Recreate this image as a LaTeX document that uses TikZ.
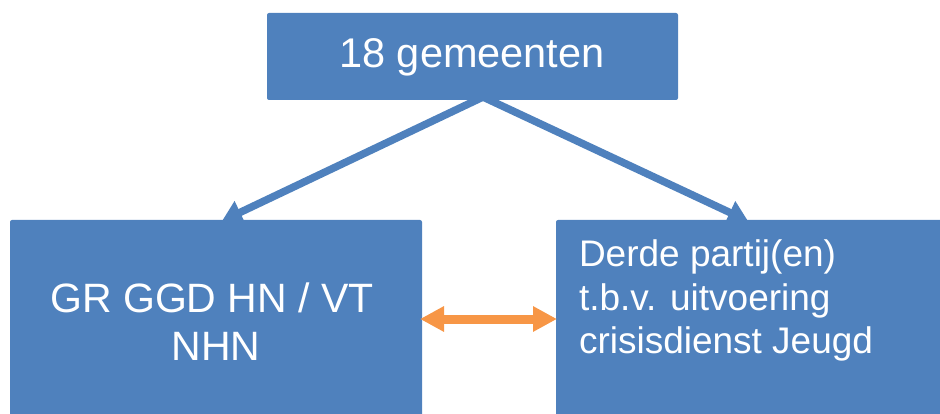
\documentclass[tikz,border=0pt]{standalone}
\usepackage{fontspec}
\setmainfont{Liberation Sans}
\usetikzlibrary{arrows.meta}
\definecolor{boxblue}{HTML}{4F81BD}
\definecolor{arrorange}{HTML}{F79646}
\begin{document}
\begin{tikzpicture}[x=1pt,y=-1pt,
  bluebox/.style={fill=boxblue, draw=none, rounded corners=2pt, inner sep=0pt, outer sep=0pt},
  conn/.style={draw=boxblue, line width=7.5pt, -{Triangle[length=20pt,width=24pt]}},
  oarrow/.style={draw=arrorange, line width=9pt, {Triangle[length=24pt,width=24pt]}-{Triangle[length=24pt,width=24pt]}},
  lbl/.style={text=white, inner sep=0pt, outer sep=0pt}]
\useasboundingbox (0,0) rectangle (940,414);
% connectors from top box
\coordinate (apex) at (483,97);
\coordinate (ltip) at (222,221);
\coordinate (rtip) at (748,221);
\draw[conn] (apex) -- (ltip);
\draw[conn] (apex) -- (rtip);
% boxes
\node[bluebox, minimum width=411pt, minimum height=87pt] (top) at (472.5,56.5) {};
\node[bluebox, minimum width=412pt, minimum height=198pt] (left) at (216,319) {};
\node[bluebox, minimum width=389pt, minimum height=198pt] (right) at (750.5,319) {};
% texts
\node[lbl, anchor=base, font=\fontsize{41.5}{48}\selectfont] (ttop) at (472,67.7) {18 gemeenten};
\node[lbl, anchor=base, font=\fontsize{41}{48}\selectfont] (tl1) at (212,312.7) {GR GGD HN / VT};
\node[lbl, anchor=base, font=\fontsize{41}{48}\selectfont] (tl2) at (216,360.7) {NHN};
\node[lbl, anchor=base west, font=\fontsize{37}{43}\selectfont] (tr1) at (579,266.7) {Derde partij(en)};
\node[lbl, anchor=base west, font=\fontsize{37}{43}\selectfont] (tr2) at (579,310) {t.b.v. uitvoering};
\node[lbl, anchor=base west, font=\fontsize{37}{43}\selectfont] (tr3) at (579,353.3) {crisisdienst Jeugd};
% orange double arrow
\draw[oarrow, shorten <=-2pt, shorten >=-1pt] (left.east) -- (right.west);
\end{tikzpicture}
\end{document}
